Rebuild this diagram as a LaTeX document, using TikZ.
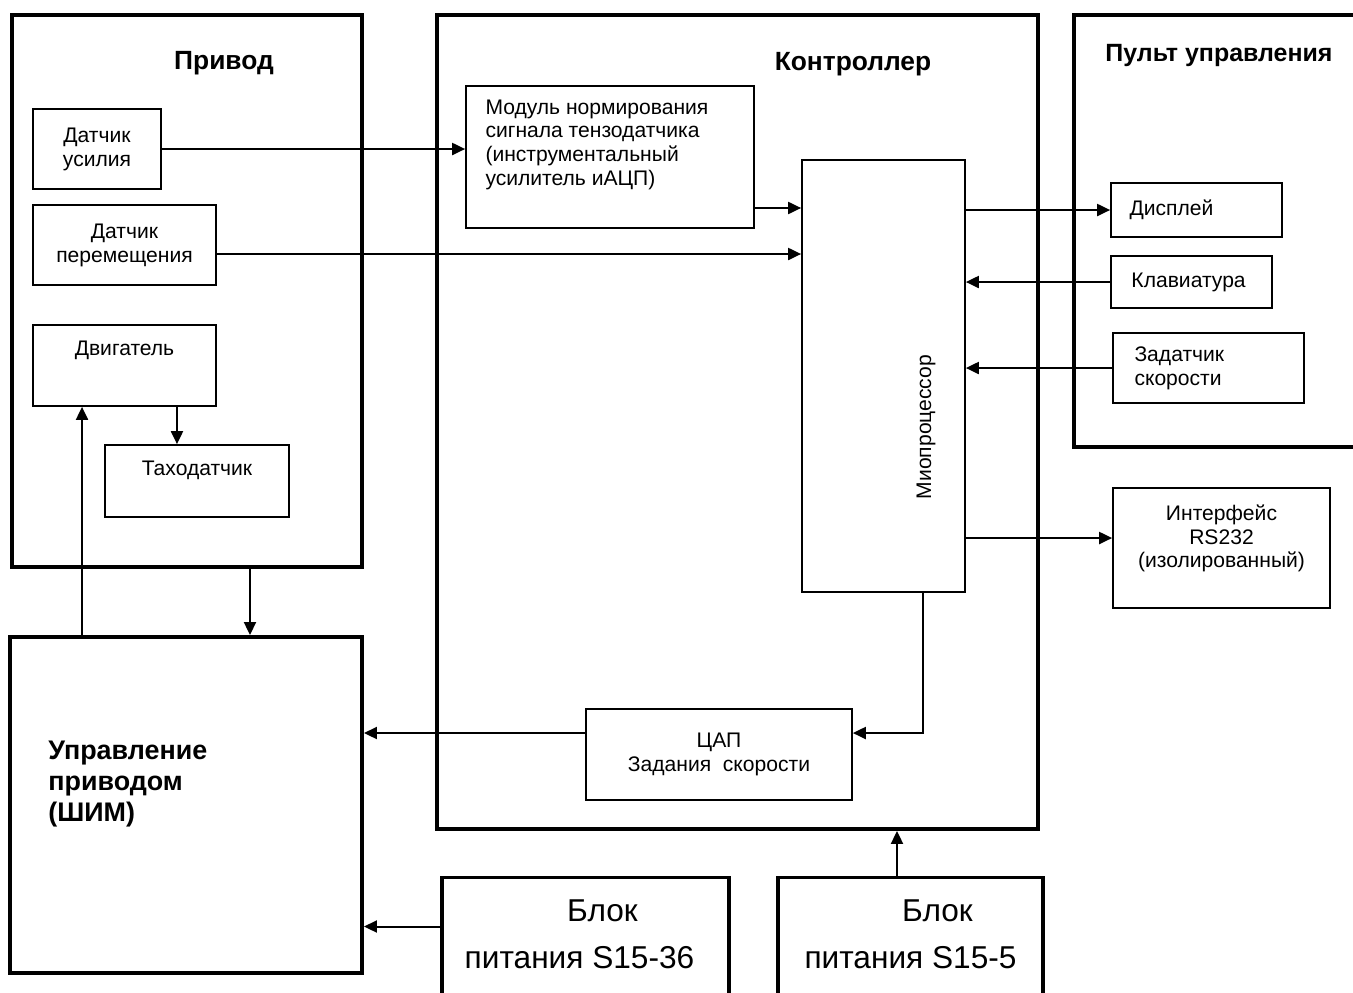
\documentclass[tikz,border=0pt]{standalone}
\usepackage{fontspec}
\setmainfont{Liberation Sans}
\usetikzlibrary{arrows.meta}
\tikzset{
  thickbox/.style={draw, line width=0.08cm},
  midbox/.style={draw, line width=0.065cm},
  blk/.style={draw, line width=0.035cm, inner sep=0pt},
  wire/.style={draw, line width=0.04cm, -{Triangle[length=0.26cm,width=0.24cm]}},
  lab/.style={font=\fontsize{12}{13.6}\selectfont, inner sep=0pt, align=left},
  labc/.style={lab, align=center},
  head/.style={font=\fontsize{15}{18}\selectfont\bfseries, inner sep=0pt},
  headl/.style={font=\fontsize{15.3}{17.6}\selectfont\bfseries, inner sep=0pt, align=left},
  big/.style={font=\fontsize{18}{26.6}\selectfont, inner sep=0pt, align=center},
}
\begin{document}
\begin{tikzpicture}[x=0.02cm, y=-0.02cm]
  \useasboundingbox (0,0) rectangle (1353,992);

  % Привод
  \node[thickbox, minimum width=7cm, minimum height=11.04cm] (privod) at (187,291) {};
  \node[head] (privodtitle) at (224,63) {Привод};
  \node[blk, labc, minimum width=2.56cm, minimum height=1.6cm] (datusil) at (97,149) {Датчик\\усилия};
  \node[blk, labc, minimum width=3.66cm, minimum height=1.6cm] (datper) at (124.5,245) {Датчик\\перемещения};
  \node[blk, minimum width=3.66cm, minimum height=1.62cm,
    label={[lab, anchor=north, yshift=-0.33cm]north:Двигатель}] (dvig) at (124.5,365.5) {};
  \node[blk, minimum width=3.68cm, minimum height=1.44cm,
    label={[lab, anchor=north, yshift=-0.33cm]north:Таходатчик}] (tacho) at (197,481) {};

  % Управление приводом
  \node[thickbox, minimum width=7.04cm, minimum height=6.72cm,
    label={[headl, anchor=north west, xshift=0.8cm, yshift=-2.12cm]north west:{Управление\\приводом\\(ШИМ)}}] (upr) at (186,805) {};

  % Контроллер
  \node[thickbox, minimum width=12.02cm, minimum height=16.28cm] (kontr) at (737.5,422) {};
  \node[head] (kontrtitle) at (853,64) {Контроллер};
  \node[blk, minimum width=5.76cm, minimum height=2.84cm,
    label={[lab, anchor=north west, xshift=0.4cm, yshift=-0.28cm]north west:{Модуль нормирования\\сигнала тензодатчика\\(инструментальный\\усилитель иАЦП)}}] (modul) at (610,157) {};
  \node[blk, minimum width=3.26cm, minimum height=8.64cm] (mp) at (883.5,376) {};
  \node[lab, rotate=90] (mptxt) at (926,427) {Миопроцессор};
  \node[blk, labc, minimum width=5.32cm, minimum height=1.82cm] (cap) at (719,754.5) {ЦАП\\Задания~~скорости};

  % Пульт управления (open to the right)
  \draw[thickbox] (1370,15) -| (1074,447) -- (1370,447);
  \node[head, font=\fontsize{14.2}{17}\selectfont\bfseries] (pulttitle) at (1219,55) {Пульт управления};
  \node[blk, minimum width=3.42cm, minimum height=1.08cm,
    label={[lab, anchor=west, xshift=0.38cm]west:Дисплей}] (disp) at (1196.5,210) {};
  \node[blk, minimum width=3.22cm, minimum height=1.04cm,
    label={[lab, anchor=west, xshift=0.42cm]west:Клавиатура}] (klav) at (1191.5,282) {};
  \node[blk, minimum width=3.82cm, minimum height=1.4cm,
    label={[lab, anchor=west, xshift=0.44cm]west:{Задатчик\\скорости}}] (zad) at (1208.5,368) {};
  \node[blk, minimum width=4.34cm, minimum height=2.4cm,
    label={[labc, anchor=north, yshift=-0.34cm]north:{Интерфейс\\RS232\\(изолированный)}}] (intf) at (1221.5,548) {};

  % блоки питания
  \node[midbox, big, text depth=0.24cm, minimum width=5.74cm, minimum height=2.5cm] (bp36) at (585.5,940) {\hspace*{0.68cm}Блок\\питания S15-36\hspace*{0.24cm}};
  \node[midbox, big, text depth=0.24cm, minimum width=5.3cm, minimum height=2.5cm] (bp5) at (910.5,940) {\hspace*{1.08cm}Блок\\питания S15-5};

  % connectors
  \draw[wire] (datusil.east) -- (datusil.east -| modul.west);
  \draw[wire] ([yshift=-0.18cm]datper.east) -- ([yshift=-0.18cm]datper.east -| mp.west);
  \draw[wire] ([yshift=-1.02cm]modul.east) -- ([yshift=-1.02cm]modul.east -| mp.west);
  \draw[wire] (disp.west -| mp.east) -- (disp.west);
  \draw[wire] (klav.west) -- (klav.west -| mp.east);
  \draw[wire] (zad.west) -- (zad.west -| mp.east);
  \draw[wire] ([yshift=0.2cm]intf.west -| mp.east) -- ([yshift=0.2cm]intf.west);
  \draw[wire] ([xshift=0.79cm]mp.south) |- ([yshift=0.43cm]cap.east);
  \draw[wire] ([yshift=0.43cm]cap.west) -- ([yshift=0.43cm]cap.west -| upr.east);
  \draw[wire] ([yshift=0.27cm]bp36.west) -- ([yshift=0.27cm]bp36.west -| upr.east);
  \draw[wire] ([xshift=-0.27cm]bp5.north) -- ([xshift=-0.27cm]bp5.north |- kontr.south);
  \draw[wire] ([xshift=1.26cm]privod.south) -- ([xshift=1.26cm]privod.south |- upr.north);
  \draw[wire] ([xshift=-2.08cm]upr.north) -- ([xshift=-2.08cm]upr.north |- dvig.south);
  \draw[wire] ([xshift=1.05cm]dvig.south) -- ([xshift=1.05cm]dvig.south |- tacho.north);
\end{tikzpicture}
\end{document}
